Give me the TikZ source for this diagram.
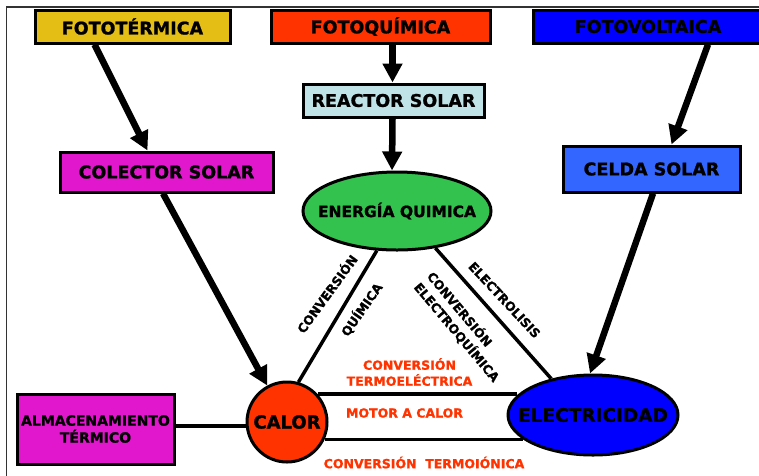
\documentclass[tikz,border=0pt]{standalone}
\usepackage{fontspec}
\setmainfont{DejaVu Sans}[BoldFeatures={FakeBold=1.2}]
\usetikzlibrary{arrows.meta,shapes.geometric}
\definecolor{oro}{HTML}{E5BE15}
\definecolor{rojizo}{HTML}{FF3300}
\definecolor{azul}{HTML}{0000FF}
\definecolor{celeste}{HTML}{BFE3E6}
\definecolor{fucsia}{HTML}{E017CC}
\definecolor{verde}{HTML}{33C24D}
\definecolor{azulclaro}{HTML}{3366FF}
\begin{document}
\begin{tikzpicture}[x=1pt,y=-1pt,
    caja/.style={draw,line width=3pt,inner sep=0pt,font=\bfseries\fontsize{17.5}{20}\selectfont},
    elipse/.style={ellipse,draw,line width=3pt,inner sep=0pt},
    flecha/.style={line width=6.5pt,-{Triangle[length=19pt,width=19pt]}},
    linea/.style={line width=3.5pt},
    giro/.style={font=\bfseries\fontsize{12.5}{17}\selectfont,inner sep=0pt},
    rotulo/.style={text=rojizo,font=\bfseries\fontsize{12.5}{16}\selectfont,inner sep=0pt,align=center}]
  \useasboundingbox (0,0) rectangle (759,475);
  \draw[line width=1.5pt,black!80] (6.5,480) -- (6.5,7) -- (765,7);
  \draw
    (132.5,26.5) node[caja,fill=oro,minimum width=195,minimum height=33] (termica){FOTOTÉRMICA}
    (380.5,26.5) node[caja,fill=rojizo,minimum width=219,minimum height=33] (quimica){FOTOQUÍMICA}
    (648,26.5) node[caja,fill=azul,minimum width=230,minimum height=33] (voltaica){FOTOVOLTAICA}
    (393.5,100.5) node[caja,fill=celeste,minimum width=181,minimum height=33] (reactor){REACTOR SOLAR}
    (166.5,172) node[caja,fill=fucsia,minimum width=213,minimum height=40] (colector){COLECTOR SOLAR}
    (651.5,169) node[caja,fill=azulclaro,minimum width=177,minimum height=46] (celda){CELDA SOLAR}
    (397,211) node[elipse,fill=verde,minimum width=188,minimum height=78,
      font=\bfseries\fontsize{15.5}{18}\selectfont] (energia){\makebox[0pt]{ENERGÍA QUIMICA}}
    (287,422) node[circle,draw,line width=3pt,inner sep=0pt,fill=rojizo,minimum size=80,
      font=\bfseries\fontsize{18}{20}\selectfont] (calor){CALOR}
    (593,415) node[elipse,fill=azul,minimum width=170,minimum height=80,
      font=\bfseries\fontsize{18.5}{20}\selectfont] (electricidad){\makebox[0pt]{ELECTRICIDAD}}
    (95.5,429) node[caja,fill=fucsia,minimum width=157,minimum height=70,align=center,
      font=\bfseries\fontsize{14}{17}\selectfont] (almacen){ALMACENAMIENTO\\TÉRMICO};
  \begin{scope}[flecha]
    \draw ([xshift=-38]termica.south) to ([xshift=-19]colector.north);
    \draw ([xshift=-3.5]colector.south) to (calor);
    \draw ([xshift=12]quimica.south) to ([xshift=-1]reactor.north);
    \draw ([xshift=-1]reactor.south) to ([xshift=-5]energia.north);
    \draw ([xshift=60]voltaica.south) to ([xshift=20]celda.north);
    \draw ([xshift=1.5]celda.south) to ([xshift=-3]electricidad.north);
  \end{scope}
  \begin{scope}[linea]
    \draw (energia.243) to (calor.74);
    \draw (energia.316) to (electricidad.139);
    \draw (calor.42) to (calor.42 -| electricidad.165);
    \draw (calor.-25) to (calor.-25 -| electricidad.199);
    \draw ([yshift=3]almacen.east) to ([yshift=3]almacen.east -| calor.west);
  \end{scope}
  \node[giro,rotate=54] (convq) at (326.5,293.5) {CONVERSIÓN};
  \node[giro,rotate=55] (quim) at (361.5,309.5) {QUÍMICA};
  \node[giro,rotate=-50,align=left] (electroq) at (463.5,326.6) {CONVERSIÓN\\ELECTROQUÍMICA};
  \node[giro,rotate=-47] (electrolisis) at (504.5,300) {ELECTROLISIS};
  \node[rotulo] (termoel) at (409.5,372) {CONVERSIÓN\\TERMOELÉCTRICA};
  \node[rotulo] (motor) at (404.5,413) {MOTOR A CALOR};
  \node[rotulo] (termoion) at (424,462.5) {CONVERSIÓN\ \ TERMOIÓNICA};
\end{tikzpicture}
\end{document}
